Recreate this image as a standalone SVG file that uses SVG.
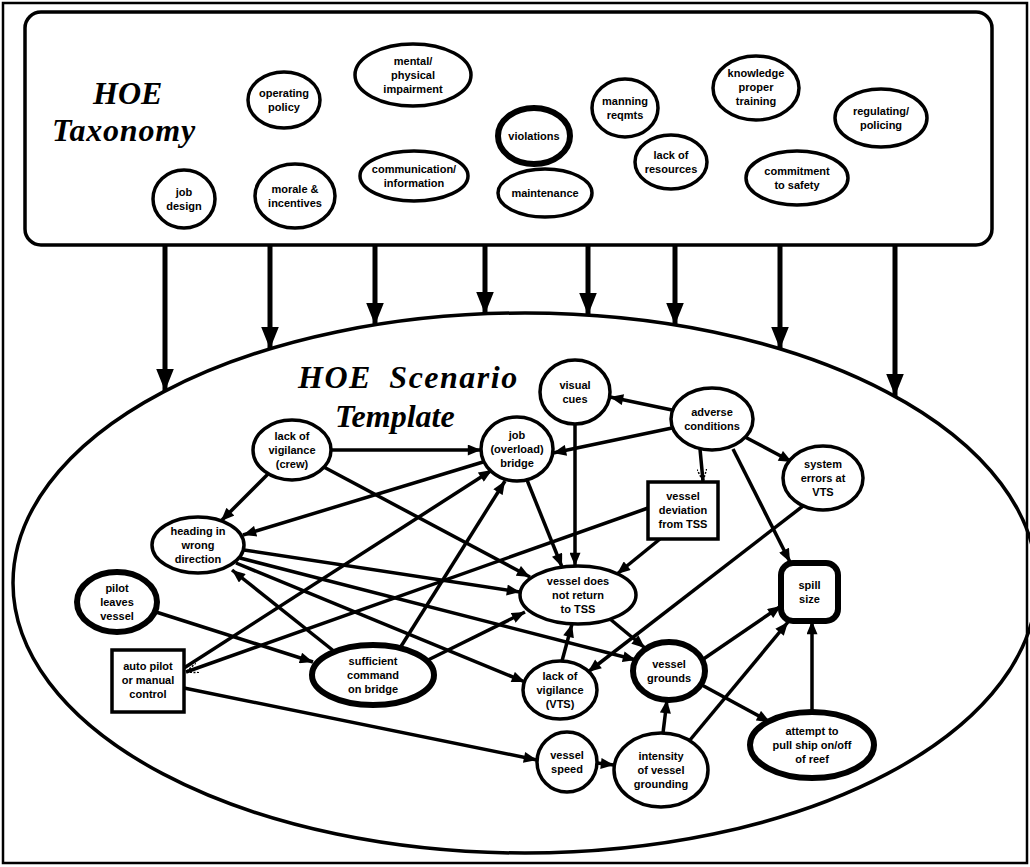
<svg xmlns="http://www.w3.org/2000/svg" width="1030" height="867" viewBox="0 0 1030 867">
  <style>
    .frame { fill: none; stroke: #000; stroke-width: 2.5; }
    .box { fill: #fff; stroke: #000; stroke-width: 3.5; }
    .n { fill: #fff; stroke: #000; stroke-width: 3.5; }
    .nt { fill: #fff; stroke: #000; stroke-width: 6; }
    .lbl { font-family: "Liberation Sans", Arial, sans-serif; font-weight: bold; font-size: 11px; fill: #000; text-anchor: middle; }
    .title { font-family: "Liberation Serif", "Times New Roman", serif; font-weight: bold; font-style: italic; font-size: 32px; fill: #000; }
    .e { fill: none; stroke: #000; stroke-width: 3.5; marker-end: url(#ah); }
    .ed { fill: none; stroke: #000; stroke-width: 3.5; marker-end: url(#ahd); }
    .big { fill: none; stroke: #000; stroke-width: 5; marker-end: url(#bigah); }
  </style>
  <defs>
    <marker id="ah" viewBox="0 0 12 10" refX="12" refY="5" markerWidth="14" markerHeight="11" markerUnits="userSpaceOnUse" orient="auto">
      <path d="M0,0 L12,5 L0,10 z" fill="#000"/>
    </marker>
    <marker id="ahd" viewBox="0 0 12 10" refX="12" refY="5" markerWidth="12" markerHeight="10" markerUnits="userSpaceOnUse" orient="auto">
      <path d="M0,0 L12,5 L0,10" fill="none" stroke="#000" stroke-width="1.5" stroke-dasharray="2 1.5"/>
    </marker>
    <marker id="bigah" viewBox="0 0 20 16" refX="20" refY="8" markerWidth="22" markerHeight="18" markerUnits="userSpaceOnUse" orient="auto">
      <path d="M0,0 L20,8 L0,16 z" fill="#000"/>
    </marker>
  </defs>

  <rect width="1030" height="867" fill="#fff"/>
  <rect class="frame" x="3" y="3" width="1024" height="860"/>

  <!-- taxonomy panel -->
  <g id="taxonomy-panel">
    <rect class="box" x="25" y="12" width="967" height="233" rx="16"/>
    <text class="title" x="93" y="104">HOE</text>
    <text class="title" x="52" y="141" letter-spacing="0.8">Taxonomy</text>
  </g>

  <!-- scenario panel -->
  <g id="scenario-panel">
    <ellipse cx="525" cy="583" rx="512" ry="270" fill="none" stroke="#000" stroke-width="3.5"/>
    <text class="title" x="298" y="388" font-size="33" letter-spacing="1.5" word-spacing="8">HOE Scenario</text>
    <text class="title" x="335" y="427" font-size="33">Template</text>
  </g>

  <!-- taxonomy factors -->
  <g id="t-operating-policy"><ellipse class="n" cx="284" cy="100" rx="36" ry="28"/><text class="lbl" x="284" y="97">operating</text><text class="lbl" x="284" y="111">policy</text></g>
  <g id="t-impairment"><ellipse class="n" cx="413" cy="75" rx="58" ry="31"/><text class="lbl" x="413" y="65">mental/</text><text class="lbl" x="413" y="79">physical</text><text class="lbl" x="413" y="93">impairment</text></g>
  <g id="t-violations"><ellipse class="nt" cx="534" cy="136" rx="36" ry="28"/><text class="lbl" x="534" y="140">violations</text></g>
  <g id="t-manning"><ellipse class="n" cx="625" cy="108" rx="33" ry="29"/><text class="lbl" x="625" y="105">manning</text><text class="lbl" x="625" y="119">reqmts</text></g>
  <g id="t-training"><ellipse class="n" cx="756" cy="88" rx="43" ry="32"/><text class="lbl" x="756" y="77">knowledge</text><text class="lbl" x="756" y="91">proper</text><text class="lbl" x="756" y="105">training</text></g>
  <g id="t-regulating"><ellipse class="n" cx="881" cy="118" rx="46" ry="29"/><text class="lbl" x="881" y="115">regulating/</text><text class="lbl" x="881" y="129">policing</text></g>
  <g id="t-job-design"><ellipse class="n" cx="184" cy="199" rx="31" ry="29"/><text class="lbl" x="184" y="196">job</text><text class="lbl" x="184" y="210">design</text></g>
  <g id="t-morale"><ellipse class="n" cx="295" cy="196" rx="40" ry="32"/><text class="lbl" x="295" y="193">morale &amp;</text><text class="lbl" x="295" y="207">incentives</text></g>
  <g id="t-communication"><ellipse class="n" cx="414" cy="176" rx="54" ry="25"/><text class="lbl" x="414" y="173">communication/</text><text class="lbl" x="414" y="187">information</text></g>
  <g id="t-maintenance"><ellipse class="n" cx="545" cy="193" rx="47" ry="24"/><text class="lbl" x="545" y="197">maintenance</text></g>
  <g id="t-resources"><ellipse class="n" cx="671" cy="162" rx="36" ry="27"/><text class="lbl" x="671" y="159">lack of</text><text class="lbl" x="671" y="173">resources</text></g>
  <g id="t-commitment"><ellipse class="n" cx="797" cy="178" rx="51" ry="27"/><text class="lbl" x="797" y="175">commitment</text><text class="lbl" x="797" y="189">to safety</text></g>

  <!-- connectors -->
  <g id="connectors">
    <!-- taxonomy feeds the scenario template -->
    <line class="big" x1="165" y1="245" x2="165" y2="391"/>
    <line class="big" x1="270" y1="245" x2="270" y2="349"/>
    <line class="big" x1="375" y1="245" x2="375" y2="325"/>
    <line class="big" x1="485" y1="245" x2="485" y2="314"/>
    <line class="big" x1="588" y1="245" x2="588" y2="315"/>
    <line class="big" x1="675" y1="245" x2="675" y2="325"/>
    <line class="big" x1="780" y1="245" x2="780" y2="349"/>
    <line class="big" x1="895" y1="245" x2="895" y2="396"/>

    <!-- scenario links -->
    <line class="e" x1="672" y1="410" x2="610" y2="397"/>
    <line class="e" x1="672" y1="428" x2="553" y2="453"/>
    <line class="ed" x1="700" y1="449" x2="703" y2="481"/>
    <line class="e" x1="745" y1="437" x2="792" y2="462"/>
    <line class="e" x1="733" y1="449" x2="790" y2="562"/>
    <line class="e" x1="575" y1="424" x2="575" y2="566"/>
    <line class="e" x1="331" y1="450" x2="481" y2="450"/>
    <line class="e" x1="268" y1="474" x2="221" y2="521"/>
    <line class="e" x1="320" y1="465" x2="530" y2="577"/>
    <line class="e" x1="483" y1="462" x2="243" y2="535"/>
    <line class="e" x1="527" y1="480" x2="562" y2="567"/>
    <line class="e" x1="244" y1="550" x2="520" y2="592"/>
    <line class="e" x1="240" y1="558" x2="636" y2="660"/>
    <line class="e" x1="236" y1="563" x2="525" y2="682"/>
    <line class="e" x1="335" y1="652" x2="232" y2="570"/>
    <line class="e" x1="400" y1="648" x2="505" y2="481"/>
    <line class="e" x1="428" y1="660" x2="525" y2="612"/>
    <line class="e" x1="156" y1="612" x2="313" y2="662"/>
    <line class="e" x1="184" y1="668" x2="492" y2="470"/>
    <line class="ed" x1="648" y1="508" x2="186" y2="672"/>
    <line class="e" x1="184" y1="688" x2="537" y2="760"/>
    <line class="e" x1="660" y1="539" x2="617" y2="574"/>
    <line class="e" x1="803" y1="506" x2="588" y2="672"/>
    <line class="e" x1="562" y1="661" x2="572" y2="624"/>
    <line class="e" x1="610" y1="619" x2="645" y2="648"/>
    <line class="e" x1="702" y1="660" x2="781" y2="606"/>
    <line class="e" x1="700" y1="684" x2="770" y2="722"/>
    <line class="e" x1="663" y1="733" x2="667" y2="700"/>
    <line class="e" x1="690" y1="740" x2="788" y2="622"/>
    <line class="e" x1="597" y1="763" x2="614" y2="765"/>
    <line class="e" x1="812" y1="712" x2="812" y2="621"/>
  </g>

  <!-- scenario nodes -->
  <g id="s-visual-cues"><ellipse class="n" cx="575" cy="392" rx="35" ry="32"/><text class="lbl" x="575" y="389">visual</text><text class="lbl" x="575" y="403">cues</text></g>
  <g id="s-adverse"><ellipse class="n" cx="712" cy="419" rx="41" ry="31"/><text class="lbl" x="712" y="416">adverse</text><text class="lbl" x="712" y="430">conditions</text></g>
  <g id="s-crew-vigilance"><ellipse class="n" cx="292" cy="450" rx="39" ry="30"/><text class="lbl" x="292" y="440">lack of</text><text class="lbl" x="292" y="454">vigilance</text><text class="lbl" x="292" y="468">(crew)</text></g>
  <g id="s-job-bridge"><ellipse class="n" cx="517" cy="449" rx="36" ry="32"/><text class="lbl" x="517" y="439">job</text><text class="lbl" x="517" y="453">(overload)</text><text class="lbl" x="517" y="467">bridge</text></g>
  <g id="s-system-errors"><ellipse class="n" cx="823" cy="478" rx="40" ry="32"/><text class="lbl" x="823" y="468">system</text><text class="lbl" x="823" y="482">errors at</text><text class="lbl" x="823" y="496">VTS</text></g>
  <g id="s-deviation"><rect class="n" x="648" y="482" width="70" height="57"/><text class="lbl" x="683" y="500">vessel</text><text class="lbl" x="683" y="514">deviation</text><text class="lbl" x="683" y="528">from TSS</text></g>
  <g id="s-heading"><ellipse class="n" cx="198" cy="545" rx="46" ry="28"/><text class="lbl" x="198" y="535">heading in</text><text class="lbl" x="198" y="549">wrong</text><text class="lbl" x="198" y="563">direction</text></g>
  <g id="s-no-return"><ellipse class="n" cx="578" cy="595" rx="58" ry="29"/><text class="lbl" x="578" y="585">vessel does</text><text class="lbl" x="578" y="599">not return</text><text class="lbl" x="578" y="613">to TSS</text></g>
  <g id="s-spill-size"><rect class="nt" x="781" y="563" width="57" height="58" rx="12"/><text class="lbl" x="809.5" y="589">spill</text><text class="lbl" x="809.5" y="603">size</text></g>
  <g id="s-pilot"><ellipse class="nt" cx="117" cy="602" rx="40" ry="30"/><text class="lbl" x="117" y="592">pilot</text><text class="lbl" x="117" y="606">leaves</text><text class="lbl" x="117" y="620">vessel</text></g>
  <g id="s-autopilot"><rect class="n" x="112" y="650" width="72" height="62"/><text class="lbl" x="148" y="670">auto pilot</text><text class="lbl" x="148" y="684">or manual</text><text class="lbl" x="148" y="698">control</text></g>
  <g id="s-command"><ellipse class="nt" cx="373" cy="675" rx="61" ry="30"/><text class="lbl" x="373" y="665">sufficient</text><text class="lbl" x="373" y="679">command</text><text class="lbl" x="373" y="693">on bridge</text></g>
  <g id="s-vts-vigilance"><ellipse class="n" cx="560" cy="690" rx="37" ry="29"/><text class="lbl" x="560" y="680">lack of</text><text class="lbl" x="560" y="694">vigilance</text><text class="lbl" x="560" y="708">(VTS)</text></g>
  <g id="s-grounds"><ellipse class="nt" cx="669" cy="671" rx="36" ry="29"/><text class="lbl" x="669" y="668">vessel</text><text class="lbl" x="669" y="682">grounds</text></g>
  <g id="s-speed"><ellipse class="n" cx="567" cy="762" rx="30" ry="30"/><text class="lbl" x="567" y="759">vessel</text><text class="lbl" x="567" y="773">speed</text></g>
  <g id="s-intensity"><ellipse class="n" cx="661" cy="770" rx="47" ry="37"/><text class="lbl" x="661" y="760">intensity</text><text class="lbl" x="661" y="774">of vessel</text><text class="lbl" x="661" y="788">grounding</text></g>
  <g id="s-attempt"><ellipse class="nt" cx="812" cy="745" rx="62" ry="33"/><text class="lbl" x="812" y="735">attempt to</text><text class="lbl" x="812" y="749">pull ship on/off</text><text class="lbl" x="812" y="763">of reef</text></g>
</svg>
